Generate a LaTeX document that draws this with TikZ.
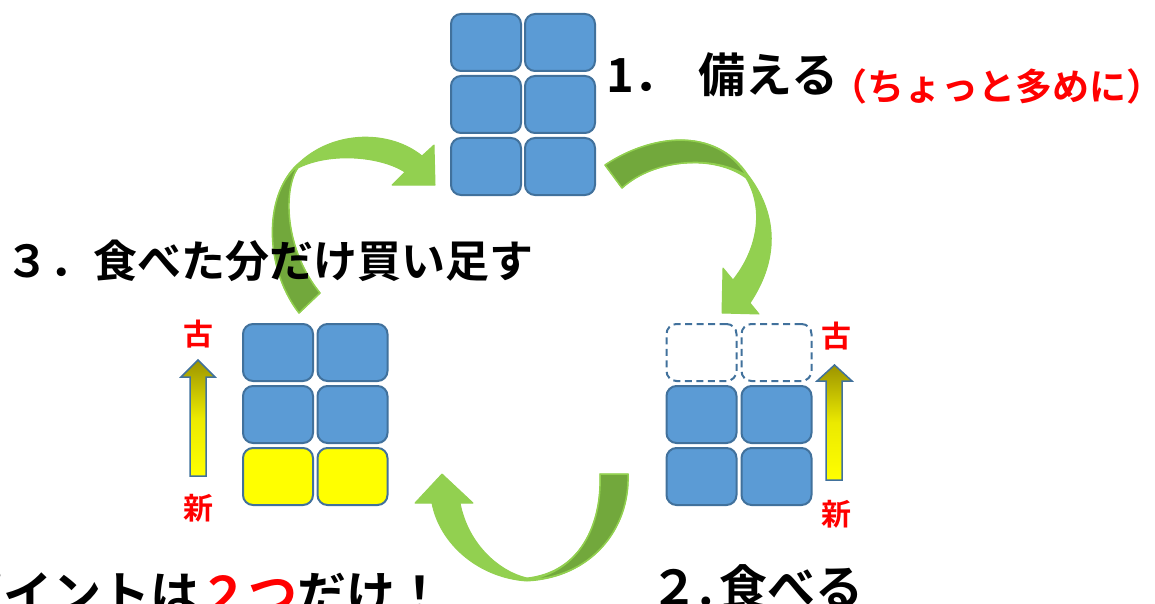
\documentclass[tikz,border=0pt]{standalone}
\usepackage{fontspec}
\newfontfamily\jpb{Noto Sans CJK JP Bold}
\definecolor{boxfill}{HTML}{5B9BD5}
\definecolor{boxline}{HTML}{41719C}
\definecolor{lgreen}{HTML}{92D050}
\definecolor{dgreen}{HTML}{72A83C}
\definecolor{olivey}{HTML}{9C9400}
\definecolor{ylw}{HTML}{FFFF00}
\definecolor{redtxt}{HTML}{FF0000}
\tikzset{
  cell/.style={draw=boxline, line width=2pt, fill=boxfill, rounded corners=10pt,
    minimum width=70pt, minimum height=57pt, inner sep=0pt},
  ycell/.style={cell, fill=ylw},
  dcell/.style={cell, fill=none, dash pattern=on 7pt off 4.5pt},
  lbl/.style={text=black, inner sep=0pt, anchor=base west},
  oldnew/.style={text=redtxt, inner sep=0pt, anchor=base, font=\jpb\fontsize{30}{30}\selectfont},
  face/.style={fill=lgreen, draw=lgreen, line width=1pt, line join=round},
  back/.style={fill=dgreen, draw=lgreen, line width=1.5pt, line join=round},
  agrad/.style={top color=olivey, bottom color=ylw, middle color=ylw!80!olivey, draw=boxline, line width=1.5pt}
}
\begin{document}
\begin{tikzpicture}[x=1pt,y=-1pt]
\useasboundingbox (0,0) rectangle (1155,604);
\clip (0,0) rectangle (1155,604);

% ---- top block (1. stock up)
\node[cell] (a11) at (486,42.5) {};
\node[cell] (a12) at (560,42.5) {};
\node[cell] (a21) at (486,104.5) {};
\node[cell] (a22) at (560,104.5) {};
\node[cell] (a31) at (486,166.5) {};
\node[cell] (a32) at (560,166.5) {};

% ---- right block (2. eat)
\node[dcell] (b11) at (701.5,352.5) {};
\node[dcell] (b12) at (776.5,352.5) {};
\node[cell] (b21) at (701.5,414.5) {};
\node[cell] (b22) at (776.5,414.5) {};
\node[cell] (b31) at (701.5,476.5) {};
\node[cell] (b32) at (776.5,476.5) {};

% ---- left block (3. buy back)
\node[cell] (c11) at (278,352.5) {};
\node[cell] (c12) at (352.5,352.5) {};
\node[cell] (c21) at (278,414.5) {};
\node[cell] (c22) at (352.5,414.5) {};
\node[ycell] (c31) at (278,476.5) {};
\node[ycell] (c32) at (352.5,476.5) {};

% ---- old/new arrows
\path[agrad] (190,476) -- (190,377) -- (181,377) -- (198,360) -- (215,377) -- (206,377) -- (206,476) -- cycle;
\path[agrad] (826,480) -- (826,381) -- (817,381) -- (834.5,365) -- (852,381) -- (842,381) -- (842,480) -- cycle;
\node[oldnew] (lold) at (198,345) {古};
\node[oldnew] (lnew) at (198,519) {新};
\node[oldnew] (rold) at (836,347) {古};
\node[oldnew] (rnew) at (836,525) {新};

% ---- curved arrow: top block -> right block
\path[face] (605,165) .. controls (650,135) and (715,125) .. (748,175)
  .. controls (775,210) and (782,255) .. (750,303)
  -- (759,314) -- (722,313) -- (723,268) -- (733,280)
  .. controls (757,250) and (765,210) .. (746,178)
  .. controls (715,155) and (655,158) .. (622,188) -- cycle;
\path[back] (605,165) .. controls (650,135) and (715,125) .. (747,176)
  .. controls (715,155) and (655,158) .. (622,188) -- cycle;

% ---- curved arrow: right block -> left block
\path[face] (628,474) .. controls (630,530) and (590,578) .. (527,581)
  .. controls (480,578) and (440,545) .. (432,503)
  -- (415,503) -- (442,474) -- (473,503) -- (460,503)
  .. controls (468,545) and (500,572) .. (527,578)
  .. controls (580,572) and (602,525) .. (600,474) -- cycle;
\path[back] (628,474) .. controls (630,530) and (590,578) .. (527,580)
  .. controls (580,572) and (602,525) .. (600,474) -- cycle;

% ---- curved arrow: left block -> top block
\path[face] (299,313) .. controls (262,265) and (265,190) .. (300,162)
  .. controls (335,130) and (390,130) .. (422,156)
  -- (434,145) -- (435,185) -- (392,185) -- (405,172)
  .. controls (380,156) and (330,152) .. (298,168)
  .. controls (282,190) and (285,250) .. (320,293) -- cycle;
\path[back] (299,313) .. controls (262,265) and (265,190) .. (299,165)
  .. controls (282,190) and (285,250) .. (320,293) -- cycle;

% ---- labels
\node[lbl, font=\jpb\fontsize{47}{47}\selectfont] (s1) at (606,93) {1．\hspace{18pt}備える};
\node[lbl, text=redtxt, font=\jpb\fontsize{37}{37}\selectfont] (s1r) at (830,101) {（ちょっと多めに）\hspace{-17pt}};
\node[lbl, font=\jpb\fontsize{44}{44}\selectfont] (s3) at (5,277) {３．食べた分だけ買い足す};
\node[lbl, font=\jpb\fontsize{48}{48}\selectfont] (s2) at (650,605) {２.\hspace{6pt}食べる};
\node[lbl, font=\jpb\fontsize{49}{49}\selectfont] (pt) at (-46,612) {ポイントは\textcolor{redtxt}{２つ}だけ！};
\end{tikzpicture}
\end{document}
